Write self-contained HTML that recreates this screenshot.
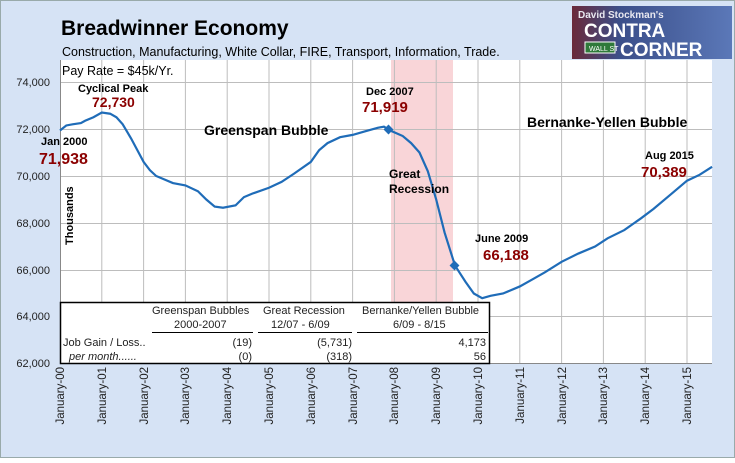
<!DOCTYPE html>
<html><head><style>
body{margin:0;width:735px;height:458px;overflow:hidden;background:#fff;font-family:"Liberation Sans",sans-serif}
</style></head><body>
<svg width="735" height="458" xmlns="http://www.w3.org/2000/svg" font-family="Liberation Sans, sans-serif">
<rect x="0.5" y="0.5" width="734" height="457" fill="#d6e3f5" stroke="#9aa" />
<rect x="60" y="60" width="652" height="303" fill="#fff"/>
<rect x="391" y="60" width="62" height="303" fill="#f9d5d8"/>
<g stroke="#bdbdbd" stroke-width="1">
<line x1="60" x2="712" y1="82.5" y2="82.5"/><line x1="60" x2="712" y1="129.5" y2="129.5"/>
<line x1="60" x2="712" y1="176.5" y2="176.5"/><line x1="60" x2="712" y1="223.5" y2="223.5"/>
<line x1="60" x2="712" y1="270.5" y2="270.5"/><line x1="60" x2="712" y1="316.5" y2="316.5"/>
<line x1="101.8" x2="101.8" y1="60" y2="363"/><line x1="143.6" x2="143.6" y1="60" y2="363"/>
<line x1="185.4" x2="185.4" y1="60" y2="363"/><line x1="227.2" x2="227.2" y1="60" y2="363"/>
<line x1="269" x2="269" y1="60" y2="363"/><line x1="310.8" x2="310.8" y1="60" y2="363"/>
<line x1="352.6" x2="352.6" y1="60" y2="363"/><line x1="394.4" x2="394.4" y1="60" y2="363"/>
<line x1="436.2" x2="436.2" y1="60" y2="363"/><line x1="478" x2="478" y1="60" y2="363"/>
<line x1="519.8" x2="519.8" y1="60" y2="363"/><line x1="561.6" x2="561.6" y1="60" y2="363"/>
<line x1="603.4" x2="603.4" y1="60" y2="363"/><line x1="645.2" x2="645.2" y1="60" y2="363"/>
<line x1="687" x2="687" y1="60" y2="363"/>
</g>
<line x1="60" x2="712" y1="363.5" y2="363.5" stroke="#888"/>
<line x1="60.5" x2="60.5" y1="60" y2="363" stroke="#888"/>
<g transform="translate(60,129) scale(41.8,-0.0235) translate(-2000,-72000)">
<polyline fill="none" stroke="#1f6cb8" stroke-width="2.2" vector-effect="non-scaling-stroke" points="2000,71938 2000.15,72150 2000.3,72200 2000.5,72250 2000.6,72350 2000.8,72500 2001,72700 2001.2,72650 2001.35,72500 2001.5,72200 2001.7,71600 2002,70600 2002.15,70250 2002.3,70000 2002.5,69850 2002.7,69700 2003,69600 2003.3,69350 2003.5,69000 2003.7,68700 2003.9,68650 2004.2,68750 2004.4,69100 2004.6,69250 2005,69500 2005.3,69750 2005.6,70100 2006,70600 2006.2,71100 2006.4,71400 2006.7,71650 2007,71750 2007.3,71900 2007.6,72050 2007.75,72100 2007.92,71919 2008.2,71700 2008.4,71400 2008.6,71000 2008.8,70200 2009,69000 2009.2,67600 2009.45,66188 2009.7,65500 2009.9,65000 2010.1,64800 2010.3,64900 2010.6,65000 2011,65300 2011.3,65600 2011.6,65900 2012,66350 2012.4,66700 2012.8,67000 2013.1,67350 2013.5,67700 2013.9,68200 2014.2,68600 2014.6,69200 2015,69800 2015.3,70050 2015.6,70389"/>
</g>
<rect x="385" y="126" width="7" height="7" fill="#1f6cb8" transform="rotate(45 388.5 129.5)"/>
<rect x="451" y="262" width="7" height="7" fill="#1f6cb8" transform="rotate(45 454.5 265.5)"/>
<g font-size="11" fill="#222" text-anchor="end">
<text x="50" y="86">74,000</text><text x="50" y="133">72,000</text><text x="50" y="180">70,000</text>
<text x="50" y="227">68,000</text><text x="50" y="274">66,000</text><text x="50" y="320">64,000</text><text x="50" y="367">62,000</text>
</g>
<text transform="translate(73,245) rotate(-90)" font-size="11" font-weight="bold">Thousands</text>
<g font-size="11.5" fill="#222" text-anchor="end">
<text transform="translate(64,367) rotate(-90)">January-00</text>
<text transform="translate(106,367) rotate(-90)">January-01</text>
<text transform="translate(148,367) rotate(-90)">January-02</text>
<text transform="translate(189,367) rotate(-90)">January-03</text>
<text transform="translate(231,367) rotate(-90)">January-04</text>
<text transform="translate(273,367) rotate(-90)">January-05</text>
<text transform="translate(315,367) rotate(-90)">January-06</text>
<text transform="translate(357,367) rotate(-90)">January-07</text>
<text transform="translate(398,367) rotate(-90)">January-08</text>
<text transform="translate(440,367) rotate(-90)">January-09</text>
<text transform="translate(482,367) rotate(-90)">January-10</text>
<text transform="translate(524,367) rotate(-90)">January-11</text>
<text transform="translate(566,367) rotate(-90)">January-12</text>
<text transform="translate(607,367) rotate(-90)">January-13</text>
<text transform="translate(649,367) rotate(-90)">January-14</text>
<text transform="translate(691,367) rotate(-90)">January-15</text>
</g>
<text x="61" y="35" font-size="21" font-weight="bold">Breadwinner Economy</text>
<text x="62" y="56" font-size="12.5">Construction, Manufacturing, White Collar, FIRE, Transport, Information, Trade.</text>
<text x="62" y="75" font-size="12.5">Pay Rate = $45k/Yr.</text>
<g font-weight="bold" font-size="11">
<text x="78" y="92">Cyclical Peak</text>
<text x="41" y="145">Jan 2000</text>
<text x="366" y="95">Dec 2007</text>
<text x="389" y="178" font-size="12">Great</text>
<text x="389" y="193" font-size="12">Recession</text>
<text x="475" y="242">June 2009</text>
<text x="645" y="159">Aug 2015</text>
</g>
<g font-weight="bold" font-size="14" fill="#8b0000">
<text x="92" y="107">72,730</text>
<text x="39" y="164" font-size="16">71,938</text>
<text x="362" y="112" font-size="15">71,919</text>
<text x="483" y="260" font-size="15">66,188</text>
<text x="641" y="177" font-size="15">70,389</text>
</g>
<text x="204" y="135" font-size="14" font-weight="bold">Greenspan Bubble</text>
<text x="527" y="127" font-size="14" font-weight="bold">Bernanke-Yellen Bubble</text>
<rect x="60.5" y="302.5" width="429" height="61" fill="#fff" stroke="#000" stroke-width="1.5"/>
<g font-size="11" fill="#222">
<text x="152" y="314">Greenspan Bubbles</text><text x="174" y="328">2000-2007</text>
<text x="263" y="314">Great Recession</text><text x="271" y="328">12/07 - 6/09</text>
<text x="362" y="314">Bernanke/Yellen Bubble</text><text x="393" y="328">6/09 - 8/15</text>
<text x="63" y="346">Job Gain / Loss..</text>
<text x="69" y="360" font-style="italic">per month......</text>
<g text-anchor="end"><text x="252" y="346">(19)</text><text x="252" y="360">(0)</text>
<text x="352" y="346">(5,731)</text><text x="352" y="360">(318)</text>
<text x="486" y="346">4,173</text><text x="486" y="360">56</text></g>
</g>
<g stroke="#000"><line x1="152" x2="253" y1="332.5" y2="332.5"/><line x1="258" x2="352" y1="332.5" y2="332.5"/><line x1="357" x2="488" y1="332.5" y2="332.5"/></g>
<defs><linearGradient id="lg" x1="0" x2="1"><stop offset="0" stop-color="#6a2a3a"/><stop offset="0.3" stop-color="#3b4f8a"/><stop offset="1" stop-color="#5b78b8"/></linearGradient></defs>
<rect x="572" y="6" width="160" height="53" fill="url(#lg)"/>
<text x="578" y="18" font-size="10" font-weight="bold" fill="#e8e8f0">David Stockman's</text>
<text x="584" y="37" font-size="19" font-weight="bold" fill="#fff">CONTRA</text>
<rect x="585" y="42" width="30" height="11" fill="#2f7a3a" stroke="#fff" stroke-width="1"/>
<text x="589" y="51" font-size="7" fill="#fff">WALL ST</text>
<text x="620" y="56" font-size="19" font-weight="bold" fill="#fff">CORNER</text>
</svg>
</body></html>
